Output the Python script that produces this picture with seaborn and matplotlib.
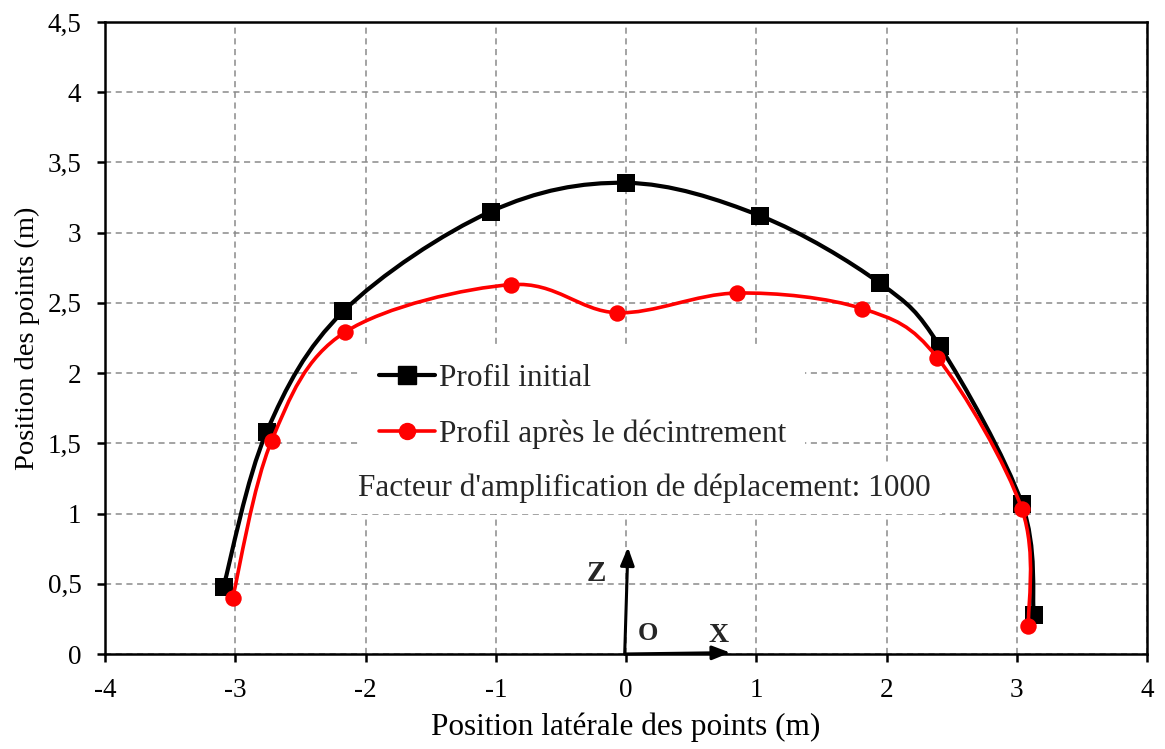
import numpy as np
import matplotlib
matplotlib.use("Agg")
import matplotlib.pyplot as plt
import seaborn as sns
import pandas as pd
from matplotlib.path import Path
from matplotlib.patches import PathPatch
from matplotlib.lines import Line2D

# ---- data ----
x_init = [-3.09, -2.76, -2.17, -1.04, 0.0, 1.03, 1.95, 2.41, 3.04, 3.13]
z_init = [0.48, 1.58, 2.44, 3.15, 3.355, 3.12, 2.64, 2.19, 1.07, 0.28]
x_dec = [-3.02, -2.72, -2.16, -0.88, -0.07, 0.85, 1.81, 2.39, 3.04, 3.09]
z_dec = [0.40, 1.52, 2.29, 2.63, 2.43, 2.57, 2.46, 2.11, 1.03, 0.20]
label_init = "Profil initial"
label_dec = "Profil après le décintrement"
note = "Facteur d'amplification de déplacement: 1000"
x_ticks = [-4, -3, -2, -1, 0, 1, 2, 3, 4]
y_ticks = [0, 0.5, 1, 1.5, 2, 2.5, 3, 3.5, 4, 4.5]
y_tick_labels = ["0", "0,5", "1", "1,5", "2", "2,5", "3", "3,5", "4", "4,5"]

sns.set_theme(style="white")
plt.rcParams['font.family'] = ['Liberation Serif', 'DejaVu Serif']

fig = plt.figure(figsize=(11.65, 7.49), dpi=100)
ax = fig.add_axes([105/1165, 1-654/749, 1042/1165, 632/749])


def smooth_path(xs, ys):
    pts = np.column_stack([xs, ys])
    n = len(pts)
    verts = [pts[0]]
    codes = [Path.MOVETO]
    for i in range(n - 1):
        p0 = pts[i - 1] if i > 0 else pts[i]
        p1 = pts[i]
        p2 = pts[i + 1]
        p3 = pts[i + 2] if i + 2 < n else pts[i + 1]
        c1 = p1 + (p2 - p0) / 6.0
        c2 = p2 - (p3 - p1) / 6.0
        verts += [c1, c2, p2]
        codes += [Path.CURVE4] * 3
    return Path(verts, codes)


df_i = pd.DataFrame({"x": x_init, "z": z_init})
df_d = pd.DataFrame({"x": x_dec, "z": z_dec})

ax.add_patch(PathPatch(smooth_path(x_init, z_init), facecolor="none",
                       edgecolor="black", lw=3.0, zorder=3, capstyle="round"))
sns.scatterplot(data=df_i, x="x", y="z", marker="s", s=180, color="black",
                linewidth=0, ax=ax, zorder=4)
ax.add_patch(PathPatch(smooth_path(x_dec, z_dec), facecolor="none",
                       edgecolor="#ff0000", lw=2.6, zorder=5, capstyle="round"))
sns.scatterplot(data=df_d, x="x", y="z", marker="o", s=140, color="#ff0000",
                linewidth=0, ax=ax, zorder=6)

ax.set_xlim(-4, 4)
ax.set_ylim(0, 4.5)
ax.set_xticks(x_ticks)
ax.set_xticklabels([str(v) for v in x_ticks])
ax.set_yticks(y_ticks)
ax.set_yticklabels(y_tick_labels)
ax.tick_params(axis="both", which="major", direction="out", length=6, width=1.8,
               color="black", labelsize=19.5, labelcolor="black",
               bottom=True, left=True)
ax.tick_params(axis="x", pad=11)
ax.tick_params(axis="y", pad=11)

ax.grid(True, color="#8a8a8a", linestyle=(0, (4, 3)), linewidth=1.1)
ax.set_axisbelow(True)
for sp in ax.spines.values():
    sp.set_visible(True)
    sp.set_color("black")
    sp.set_linewidth(1.8)

ax.set_xlabel("Position latérale des points (m)", fontsize=22.5, color="black", labelpad=7)
ax.set_ylabel("Position des points (m)", fontsize=20.5, color="black", labelpad=5)

handles = [
    Line2D([0], [0], color="black", lw=3.0, marker="s", markersize=13),
    Line2D([0], [0], color="#ff0000", lw=2.6, marker="o", markersize=11.5),
]
leg = ax.legend(handles, [label_init, label_dec], loc="upper left",
                bbox_to_anchor=((360-105)/1042, (654-345)/632),
                fontsize=22.5, frameon=True, handlelength=1.8, handletextpad=0.13,
                labelspacing=0.85, borderpad=0.6, borderaxespad=0, fancybox=False)
leg.get_frame().set_facecolor("white")
leg.get_frame().set_edgecolor("none")
leg.get_frame().set_alpha(1)
leg.set_zorder(7)

ax.text(0.14, 1.18, note, fontsize=22.5, ha="center", va="center", zorder=7,
        bbox=dict(facecolor="white", edgecolor="none", pad=8))

# local axes O-X-Z
ax.annotate("", xy=(0.015, 0.76), xytext=(-0.01, 0.0),
            arrowprops=dict(arrowstyle="-|>,head_length=0.9,head_width=0.35",
                            color="black", lw=2.2, shrinkA=0, shrinkB=0), zorder=8)
ax.annotate("", xy=(0.80, 0.01), xytext=(-0.01, 0.0),
            arrowprops=dict(arrowstyle="-|>,head_length=0.9,head_width=0.35",
                            color="black", lw=2.2, shrinkA=0, shrinkB=0), zorder=8)
ax.text(-0.225, 0.57, "Z", fontsize=21, fontweight="bold", ha="center", va="center", zorder=8)
ax.text(0.17, 0.145, "O", fontsize=19, fontweight="bold", ha="center", va="center", zorder=8)
ax.text(0.71, 0.13, "X", fontsize=20, fontweight="bold", ha="center", va="center", zorder=8)

fig.savefig("out.png", dpi=100)
